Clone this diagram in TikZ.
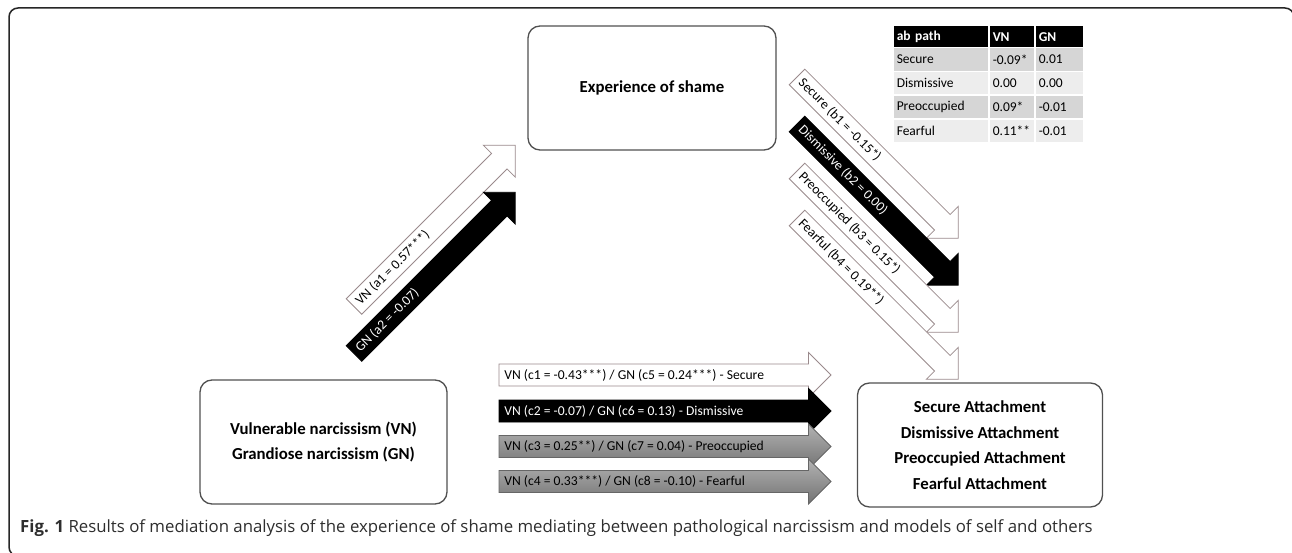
\documentclass[tikz,border=0pt]{standalone}
\usepackage{fontspec}
\setmainfont{Carlito}
\newfontfamily\capfont{Open Sans}
\usetikzlibrary{calc}

\definecolor{arrline}{HTML}{9A8A8C}
\definecolor{boxline}{HTML}{505050}
\definecolor{rowdark}{HTML}{D6D6D6}
\definecolor{rowlight}{HTML}{EDEDED}
\definecolor{capgray}{HTML}{2E2E2E}

\tikzset{
  box/.style={draw=boxline, line width=1.3pt, rounded corners=12pt, fill=white,
    align=center, font=\bfseries\fontsize{16.8}{25.5}\selectfont},
  whitearr/.style={draw=arrline, line width=0.8pt, fill=white, text=black},
  blackarr/.style={draw=black, line width=0.8pt, fill=black, text=white},
  greyarr/.style={draw=black!60, line width=0.8pt, top color=black!30,
    bottom color=black!55, text=black},
  arrlabel/.style={anchor=west, inner sep=0pt, font=\fontsize{13.6}{15}\selectfont},
  cell/.style={draw=white, line width=1.5pt, anchor=north west, inner xsep=4pt,
    inner ysep=0pt, align=left, font=\fontsize{13.5}{15}\selectfont}
}

% #1 style, #2 name, #3 tail, #4 angle, #5 length, #6 label
\newcommand{\blockarrow}[6]{%
  \begin{scope}[shift={(#3)}, rotate=#4]
    \draw[#1] (0,-11) -- (#5-22.5,-11) -- (#5-22.5,-22.5) -- (#5,0)
      -- (#5-22.5,22.5) -- (#5-22.5,11) -- (0,11) -- cycle
      (5,0) node[arrlabel, rotate=#4] (#2) {#6};
  \end{scope}}

\begin{document}
\begin{tikzpicture}[x=1pt, y=-1pt]
  \fill[white] (0,0) rectangle (1292,553);
  \useasboundingbox (0,0) rectangle (1292,553);

  % frame
  \draw[line width=1.5pt, black!85, rounded corners=9pt]
    (40,556) -- (9,556) -- (9,8) -- (1294,8) -- (1294,40);

  % boxes
  \node[box, minimum width=248, minimum height=124] (shame) at (652,88) {Experience of shame};
  \node[box, minimum width=247, minimum height=124] (narc) at (323.5,442)
    {Vulnerable narcissism (VN)\\Grandiose narcissism (GN)};
  \node[box, minimum width=245, minimum height=124] (attach) at (980,445)
    {Secure Attachment\\Dismissive Attachment\\Preoccupied Attachment\\Fearful Attachment};

  % a paths
  \coordinate (aVN) at (354,306.5);
  \coordinate (aGN) at (354,353.5);
  \blockarrow{whitearr}{a1}{aVN}{45}{228}{VN (a1 = 0.57***)}
  \blockarrow{blackarr}{a2}{aGN}{45}{228}{GN (a2 = -0.07)}

  % b paths
  \coordinate (bSec) at (797,77);
  \coordinate (bDis) at (797,124);
  \coordinate (bPre) at (797,171);
  \coordinate (bFea) at (797,218);
  \blockarrow{whitearr}{b1}{bSec}{-45}{228}{Secure (b1 = -0.15*)}
  \blockarrow{blackarr}{b2}{bDis}{-45}{228}{Dismissive (b2 = 0.00)}
  \blockarrow{whitearr}{b3}{bPre}{-45}{228}{Preoccupied (b3 = 0.15*)}
  \blockarrow{whitearr}{b4}{bFea}{-45}{228}{Fearful (b4 = 0.19**)}

  % c paths
  \coordinate (cSec) at (499,375);
  \coordinate (cDis) at (499,411);
  \coordinate (cPre) at (499,446.5);
  \coordinate (cFea) at (499,481.5);
  \blockarrow{whitearr}{c1}{cSec}{0}{332}{VN (c1 = -0.43***) / GN (c5 = 0.24***) - Secure}
  \blockarrow{blackarr}{c2}{cDis}{0}{332}{VN (c2 = -0.07) / GN (c6 = 0.13) - Dismissive}
  \blockarrow{greyarr}{c3}{cPre}{0}{332}{VN (c3 = 0.25**) / GN (c7 = 0.04) - Preoccupied}
  \blockarrow{greyarr}{c4}{cFea}{0}{332}{VN (c4 = 0.33***) / GN (c8 = -0.10) - Fearful}

  % ab table
  \node[cell, fill=black, text=white, font=\bfseries\fontsize{13.5}{15}\selectfont,
    text width=88, minimum height=22] (hdab) at (892,25) {ab path};
  \node[cell, fill=black, text=white, font=\bfseries\fontsize{13.5}{15}\selectfont,
    text width=38, minimum height=22] (hdvn) at (988,25) {VN};
  \node[cell, fill=black, text=white, font=\bfseries\fontsize{13.5}{15}\selectfont,
    text width=41, minimum height=22] (hdgn) at (1034,25) {GN};
  \foreach \lab/\vn/\gn/\col [count=\i] in {Secure/-0.09*/0.01/rowdark,
      Dismissive/0.00/0.00/rowlight, Preoccupied/0.09*/-0.01/rowdark,
      Fearful/0.11**/-0.01/rowlight}{
    \node[cell, fill=\col, text width=88, minimum height=23.75]
      (lab\i) at (892,{47+(\i-1)*23.75}) {\mbox{\lab}};
    \node[cell, fill=\col, text width=38, minimum height=23.75]
      (vn\i) at (988,{47+(\i-1)*23.75}) {\mbox{\vn}};
    \node[cell, fill=\col, text width=41, minimum height=23.75]
      (gn\i) at (1034,{47+(\i-1)*23.75}) {\mbox{\gn}};
  }

  % caption
  \node[anchor=west, inner sep=0pt, text=capgray, font=\capfont\fontsize{16.8}{20}\selectfont]
    (caption) at (20,528) {\textbf{Fig. 1} Results of mediation analysis of the experience
    of shame mediating between pathological narcissism and models of self and others};
\end{tikzpicture}
\end{document}
